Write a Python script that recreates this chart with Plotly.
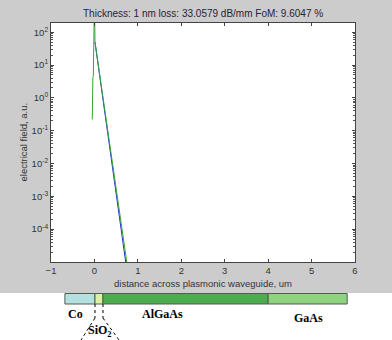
import plotly.graph_objects as go

# ---------------- data ----------------
blue_x = [0.013, 0.72]
blue_y = [50.0, 1e-5]

green_x = [-0.050, -0.048, -0.040, -0.036, -0.026, -0.010, 0.000, 0.013, 0.745]
green_y = [0.22, 1.0, 1.1, 4.2, 4.4, 400.0, 1000.0, 50.0, 1e-5]

x_tick_vals = [-1, 0, 1, 2, 3, 4, 5, 6]
y_tick_vals = [1e-4, 1e-3, 1e-2, 1e-1, 1e0, 1e1, 1e2]
y_tick_text = ["10<sup>-4</sup>", "10<sup>-3</sup>", "10<sup>-2</sup>", "10<sup>-1</sup>",
               "10<sup>0</sup>", "10<sup>1</sup>", "10<sup>2</sup>"]

layer_names = ["Co", "SiO<sub>2</sub>", "AlGaAs", "GaAs"]
layer_start = [-0.68, 0.013, 0.197, 4.0]
layer_end = [0.013, 0.197, 4.0, 5.82]
layer_colors = ["#b4e1df", "#d9f3a2", "#4bad4e", "#8fd27f"]
label_x = [-0.43, 0.128, 1.556, 4.92]

title_text = "Thickness: 1 nm loss: 33.0579 dB/mm FoM: 9.6047 %"

# ---------------- geometry ----------------
W, H = 392, 340
L, R, T, B = 51, 37, 23, 78
PH = H - T - B
PW = W - L - R


def py(px):
    return (H - B - px) / PH


def pxp(px):
    return (px - L) / PW


fig = go.Figure()
fig.add_trace(go.Scatter(x=blue_x, y=blue_y, mode="lines",
                         line=dict(color="#1f2fd0", width=1), showlegend=False))
fig.add_trace(go.Scatter(x=green_x, y=green_y, mode="lines",
                         line=dict(color="#34a334", width=1), showlegend=False))

shapes = []
# white lower area (below the grey MATLAB figure)
shapes.append(dict(type="rect", xref="paper", yref="paper",
                   x0=pxp(0), x1=pxp(W), y0=py(293), y1=py(H + 2),
                   fillcolor="white", line=dict(width=0), layer="below"))
# layer bar
for s, e, c in zip(layer_start, layer_end, layer_colors):
    shapes.append(dict(type="rect", xref="x", yref="paper",
                       x0=s, x1=e, y0=py(304), y1=py(293.5),
                       fillcolor=c, line=dict(color="#4f5f4f", width=1), layer="above"))
# dashed indicator lines for SiO2
sio_l, sio_r = layer_start[1], layer_end[1]
for xv in (sio_l, sio_r):
    shapes.append(dict(type="line", xref="x", yref="paper", x0=xv, x1=xv,
                       y0=py(304), y1=py(318), line=dict(color="black", width=1, dash="dot")))
shapes.append(dict(type="line", xref="x", yref="paper", x0=sio_l, x1=sio_l - 0.32,
                   y0=py(318), y1=py(340), line=dict(color="black", width=1, dash="dot")))
shapes.append(dict(type="line", xref="x", yref="paper", x0=sio_r, x1=sio_r + 0.37,
                   y0=py(318), y1=py(340), line=dict(color="black", width=1, dash="dot")))

label_y = [py(314), py(331), py(314), py(318)]
annotations = []
for name, xv, yv in zip(layer_names, label_x, label_y):
    annotations.append(dict(text="<b>" + name + "</b>", x=xv, y=yv, xref="x", yref="paper",
                            showarrow=False, xanchor="center", yanchor="middle",
                            font=dict(family="Liberation Serif", size=12, color="black")))
annotations.append(dict(text="electrical field, a.u.", x=pxp(23), y=py(142.5),
                        xref="paper", yref="paper", showarrow=False, textangle=-90,
                        xanchor="center", yanchor="middle",
                        font=dict(family="Liberation Sans", size=9.5, color="#333333")))
annotations.append(dict(text="distance across plasmonic waveguide, um", x=0.5, y=py(283),
                        xref="paper", yref="paper", showarrow=False,
                        xanchor="center", yanchor="middle",
                        font=dict(family="Liberation Sans", size=9.5, color="#333333")))
annotations.append(dict(text=title_text, x=0.5, y=py(13),
                        xref="paper", yref="paper", showarrow=False,
                        xanchor="center", yanchor="middle",
                        font=dict(family="Liberation Sans", size=10, color="#2a2233")))

fig.update_layout(
    width=W, height=H,
    margin=dict(l=L, r=R, t=T, b=B, pad=0),
    paper_bgcolor="#cccccc",
    plot_bgcolor="white",
    shapes=shapes,
    annotations=annotations,
    font=dict(family="Liberation Sans", size=9.5, color="#333333"),
    xaxis=dict(range=[-1, 6], tickvals=x_tick_vals, ticks="inside", ticklen=3,
               tickcolor="#444444", showline=True, linecolor="#444444", linewidth=1,
               mirror="ticks", showgrid=False, zeroline=False, automargin=False,
               tickfont=dict(size=9.5, color="#333333")),
    yaxis=dict(type="log", range=[-5, 2.28], tickvals=y_tick_vals, ticktext=y_tick_text,
               ticks="inside", ticklen=3, tickcolor="#444444", showline=True,
               linecolor="#444444", linewidth=1, mirror="ticks", showgrid=False,
               zeroline=False, automargin=False, tickfont=dict(size=9.5, color="#333333"),
               minor=dict(ticks="inside", ticklen=2, tickcolor="#555555", dtick="D1")),
)

fig.write_html("out.html", config={"displayModeBar": False},
               post_script="document.body.style.margin='0';document.body.style.padding='0';")
